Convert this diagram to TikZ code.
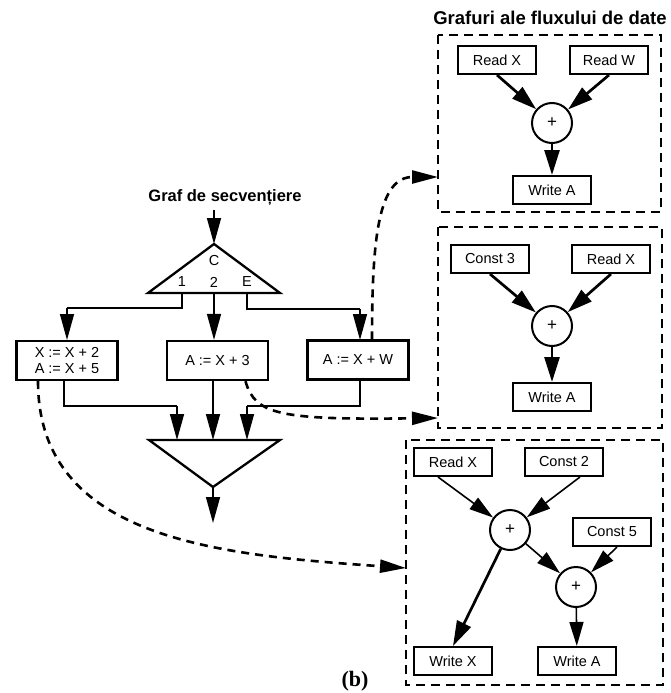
\documentclass[tikz,border=0pt]{standalone}
\usepackage{fontspec}
\setmainfont{Liberation Sans}
\newfontfamily\serifbf{Liberation Serif}
\usetikzlibrary{arrows.meta,calc}

\begin{document}
\begin{tikzpicture}[x=1pt,y=-1pt,
  stmt/.style={draw, line width=2.3pt, minimum width=101pt, minimum height=39pt,
    inner sep=0pt, align=center, font=\fontsize{14.5}{15.5}\selectfont},
  op/.style={draw, line width=2pt, minimum width=78pt, minimum height=28pt,
    inner sep=0pt, font=\fontsize{14.5}{15.5}\selectfont},
  plusnode/.style={circle, draw, line width=2pt, minimum size=40pt, inner sep=0pt,
    font=\fontsize{17}{17}\selectfont},
  region/.style={draw, line width=2.1pt, dash pattern=on 9pt off 6pt},
  lbl/.style={font=\fontsize{14.5}{15.5}\selectfont, inner sep=0pt},
  wire/.style={line width=1.4pt},
  ctl/.style={line width=1.5pt, -{Triangle[length=26pt,width=14pt]}},
  flow/.style={line width=2.7pt, -{Triangle[length=25pt,width=15pt]}},
  thinflow/.style={line width=1.6pt, -{Triangle[length=24pt,width=14pt]}},
  link/.style={line width=2.6pt, dash pattern=on 8pt off 6pt,
    -{Triangle[length=26pt,width=13pt]}},
  outline/.style={line width=2.3pt, line join=miter}
]
\useasboundingbox (0,0) rectangle (671,693);

% ---------- headings ----------
\node[font=\bfseries\fontsize{16.5}{18}\selectfont] (hseq) at (225,197) {Graf de secvențiere};
\node[font=\bfseries\fontsize{18.5}{20}\selectfont] (hflow) at (550,18) {Grafuri ale fluxului de date};
\node[font=\serifbf\bfseries\fontsize{22}{24}\selectfont] (tagb) at (355,681) {(b)};

% ---------- branching triangle ----------
\coordinate (in) at (214,210);
\coordinate (apex) at (214,244);
\coordinate (bl) at (148,293);
\coordinate (br) at (280,293);
\draw[outline] (apex) -- (br) -- (bl) -- cycle;
\node[lbl] (lc) at (214,261) {C};
\node[lbl] (l1) at (182,282) {1};
\node[lbl] (l2) at (214,282) {2};
\node[lbl] (le) at (247,282) {E};
\coordinate (b1) at (182,293);
\coordinate (b2) at (214,293);
\coordinate (b3) at (247,293);
\draw[ctl] (in) -- (apex);

% ---------- statements ----------
\node[stmt] (s1) at (67,360.5) {X := X + 2\\A := X + 5};
\node[stmt] (s2) at (217.5,360.5) {A := X + 3};
\node[stmt] (s3) at (358,360) {A := X + W};

\draw[wire] (b1) -- (182,308) -- (67,308);
\draw[ctl] (67,308) -- (67,340);
\draw[ctl] (b2) -- (b2 |- s2.north);
\draw[wire] (b3) -- (247,309) -- (360,309);
\draw[ctl] (360,309) -- (360,340);

% ---------- merging triangle ----------
\coordinate (ml) at (149,440);
\coordinate (mr) at (280,440);
\coordinate (mapex) at (213,487);
\coordinate (out) at (213,523);
\draw[outline] (ml) -- (mr) -- (mapex) -- cycle;
\draw[ctl] (mapex) -- (out);

\draw[wire] ([xshift=-3pt]s1.south) -- (64,406) -- (177,406);
\draw[ctl] (177,406) -- (177,440);
\draw[ctl] (213,381) -- (213,440);
\draw[wire] (360,380) -- (360,406) -- (247,406);
\draw[ctl] (247,406) -- (247,440);

% ---------- data-flow graph for A := X + W ----------
\draw[region] (438,35) rectangle (661,212);
\coordinate (r1sw) at (438,212);
\node[op] (a1) at (497,60) {Read X};
\node[op] (a2) at (609,60) {Read W};
\node[plusnode] (ap) at (552,123) {+};
\node[op] (aw) at (552,190) {Write A};
\draw[flow] (a1.south) -- (ap);
\draw[flow] (a2.south) -- (ap);
\draw[flow] (ap) -- (aw);

% ---------- data-flow graph for A := X + 3 ----------
\draw[region] (438,227) rectangle (662,428);
\coordinate (r2sw) at (438,428);
\node[op] (b1n) at (490,259) {Const 3};
\node[op] (b2n) at (611,259) {Read X};
\node[plusnode] (bp) at (552,326) {+};
\node[op] (bw) at (552,397) {Write A};
\draw[flow] (b1n.south) -- (bp);
\draw[flow] (b2n.south) -- (bp);
\draw[flow] (bp) -- (bw);

% ---------- data-flow graph for X := X + 2; A := X + 5 ----------
\draw[region] (406,440) rectangle (663,685);
\coordinate (r3sw) at (406,685);
\node[op] (c1) at (453,462) {Read X};
\node[op] (c2) at (564,462) {Const 2};
\node[plusnode] (cp) at (510,530) {+};
\node[op] (c5) at (612,532) {Const 5};
\node[plusnode] (cq) at (576,587) {+};
\node[op] (cx) at (453,661) {Write X};
\node[op] (ca) at (577,661) {Write A};
\draw[thinflow] ([xshift=-15pt]c1.south) -- (cp);
\draw[thinflow] ([xshift=16pt]c2.south) -- (cp);
\draw[flow] (cp) -- (cx.north);
\draw[thinflow] (cp) -- (cq);
\draw[thinflow] ([xshift=5pt]c5.south) -- (cq);
\draw[thinflow] (cq) -- (ca);

% ---------- mapping from statements to data-flow graphs ----------
\draw[link] ([xshift=14pt]s3.north) .. controls (372,240) and (378,177) .. ([yshift=35pt]r1sw);
\draw[link] ([xshift=28pt]s2.south) .. controls (255,415) and (280,420) .. ([yshift=10pt]r2sw);
\draw[link] ([xshift=-29pt]s1.south) .. controls (38,540) and (220,555) .. ([yshift=117pt]r3sw);
\end{tikzpicture}
\end{document}
